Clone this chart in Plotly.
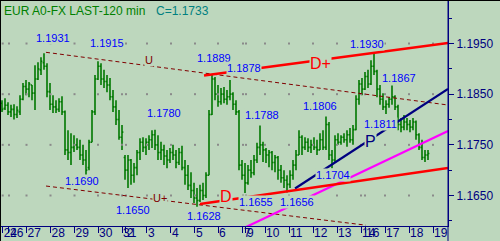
import plotly.graph_objects as go

# ---------------- data: 2-hour OHLC bars, oldest first ----------------
open_ = [1.1832, 1.1822, 1.1828, 1.1815, 1.1820, 1.1810, 1.1815, 1.1840, 1.1865, 1.1860,
         1.1868, 1.1852, 1.1880, 1.1898, 1.1912, 1.1905, 1.1855, 1.1830, 1.1825, 1.1820,
         1.1835, 1.1815, 1.1740, 1.1735, 1.1745, 1.1750, 1.1745, 1.1730, 1.1720, 1.1705,
         1.1755, 1.1815, 1.1880, 1.1905, 1.1880, 1.1875, 1.1868, 1.1845, 1.1825, 1.1800,
         1.1765, 1.1725, 1.1700, 1.1720, 1.1690, 1.1705, 1.1735, 1.1755, 1.1745, 1.1755,
         1.1760, 1.1770, 1.1750, 1.1735, 1.1740, 1.1728, 1.1720, 1.1735, 1.1730, 1.1715,
         1.1735, 1.1705, 1.1690, 1.1670, 1.1660, 1.1645, 1.1640, 1.1660, 1.1650, 1.1690,
         1.1810, 1.1880, 1.1850, 1.1835, 1.1850, 1.1840, 1.1845, 1.1850, 1.1830, 1.1815,
         1.1710, 1.1690, 1.1675, 1.1700, 1.1695, 1.1720, 1.1745, 1.1750, 1.1740, 1.1730,
         1.1735, 1.1715, 1.1725, 1.1700, 1.1685, 1.1680, 1.1672, 1.1690, 1.1710, 1.1730,
         1.1765, 1.1745, 1.1755, 1.1745, 1.1750, 1.1745, 1.1740, 1.1760, 1.1745, 1.1790,
         1.1730, 1.1720, 1.1760, 1.1755, 1.1765, 1.1760, 1.1770, 1.1760, 1.1780, 1.1840,
         1.1870, 1.1860, 1.1885, 1.1870, 1.1905, 1.1895, 1.1860, 1.1840, 1.1825, 1.1830,
         1.1840, 1.1845, 1.1825, 1.1790, 1.1785, 1.1795, 1.1790, 1.1785, 1.1795, 1.1770,
         1.1745, 1.1725, 1.1730]
high = [1.1838, 1.1842, 1.1834, 1.1829, 1.1830, 1.1826, 1.1848, 1.1872, 1.1878, 1.1874,
        1.1868, 1.1907, 1.1913, 1.1923, 1.1931, 1.1911, 1.1872, 1.1848, 1.1838, 1.1842,
        1.1846, 1.1818, 1.1779, 1.1773, 1.1769, 1.1763, 1.1760, 1.1750, 1.1740, 1.1760,
        1.1819, 1.1888, 1.1915, 1.1911, 1.1898, 1.1888, 1.1882, 1.1858, 1.1838, 1.1819,
        1.1789, 1.1730, 1.1730, 1.1722, 1.1714, 1.1740, 1.1763, 1.1765, 1.1763, 1.1769,
        1.1779, 1.1780, 1.1769, 1.1756, 1.1750, 1.1740, 1.1744, 1.1750, 1.1740, 1.1744,
        1.1748, 1.1720, 1.1710, 1.1696, 1.1675, 1.1665, 1.1671, 1.1675, 1.1696, 1.1819,
        1.1889, 1.1884, 1.1868, 1.1862, 1.1864, 1.1858, 1.1878, 1.1854, 1.1838, 1.1819,
        1.1720, 1.1714, 1.1710, 1.1720, 1.1730, 1.1754, 1.1788, 1.1756, 1.1744, 1.1740,
        1.1738, 1.1730, 1.1728, 1.1710, 1.1700, 1.1690, 1.1700, 1.1720, 1.1740, 1.1779,
        1.1769, 1.1765, 1.1763, 1.1760, 1.1765, 1.1760, 1.1773, 1.1779, 1.1806, 1.1795,
        1.1740, 1.1769, 1.1773, 1.1769, 1.1773, 1.1779, 1.1783, 1.1789, 1.1848, 1.1878,
        1.1882, 1.1894, 1.1898, 1.1917, 1.1930, 1.1898, 1.1868, 1.1852, 1.1838, 1.1844,
        1.1867, 1.1848, 1.1829, 1.1803, 1.1809, 1.1803, 1.1799, 1.1803, 1.1798, 1.1773,
        1.1760, 1.1740, 1.1740]
low = [1.1815, 1.1819, 1.1809, 1.1805, 1.1800, 1.1803, 1.1809, 1.1838, 1.1848, 1.1844,
       1.1838, 1.1819, 1.1878, 1.1888, 1.1898, 1.1844, 1.1819, 1.1813, 1.1813, 1.1815,
       1.1809, 1.1730, 1.1720, 1.1710, 1.1736, 1.1740, 1.1720, 1.1710, 1.1690, 1.1700,
       1.1755, 1.1809, 1.1878, 1.1868, 1.1862, 1.1854, 1.1838, 1.1815, 1.1789, 1.1760,
       1.1740, 1.1681, 1.1665, 1.1671, 1.1675, 1.1690, 1.1720, 1.1736, 1.1730, 1.1740,
       1.1744, 1.1740, 1.1720, 1.1720, 1.1710, 1.1704, 1.1714, 1.1720, 1.1704, 1.1710,
       1.1700, 1.1671, 1.1661, 1.1645, 1.1635, 1.1628, 1.1637, 1.1641, 1.1645, 1.1690,
       1.1809, 1.1838, 1.1825, 1.1829, 1.1832, 1.1829, 1.1838, 1.1819, 1.1809, 1.1700,
       1.1681, 1.1655, 1.1671, 1.1685, 1.1690, 1.1714, 1.1730, 1.1716, 1.1714, 1.1706,
       1.1700, 1.1696, 1.1681, 1.1675, 1.1665, 1.1656, 1.1665, 1.1681, 1.1700, 1.1730,
       1.1730, 1.1740, 1.1736, 1.1734, 1.1740, 1.1730, 1.1740, 1.1740, 1.1740, 1.1720,
       1.1704, 1.1716, 1.1750, 1.1750, 1.1754, 1.1746, 1.1754, 1.1750, 1.1779, 1.1829,
       1.1848, 1.1858, 1.1862, 1.1868, 1.1888, 1.1844, 1.1829, 1.1819, 1.1811, 1.1823,
       1.1829, 1.1819, 1.1779, 1.1775, 1.1779, 1.1779, 1.1775, 1.1779, 1.1760, 1.1740,
       1.1720, 1.1716, 1.1720]
close = [1.1820, 1.1828, 1.1815, 1.1820, 1.1810, 1.1818, 1.1840, 1.1865, 1.1860, 1.1870,
         1.1852, 1.1880, 1.1900, 1.1915, 1.1905, 1.1855, 1.1830, 1.1825, 1.1820, 1.1835,
         1.1815, 1.1740, 1.1735, 1.1745, 1.1750, 1.1745, 1.1730, 1.1720, 1.1700, 1.1755,
         1.1815, 1.1880, 1.1905, 1.1880, 1.1875, 1.1868, 1.1845, 1.1825, 1.1800, 1.1765,
         1.1775, 1.1700, 1.1720, 1.1690, 1.1705, 1.1735, 1.1755, 1.1745, 1.1755, 1.1760,
         1.1770, 1.1750, 1.1735, 1.1740, 1.1728, 1.1720, 1.1735, 1.1730, 1.1715, 1.1735,
         1.1705, 1.1690, 1.1670, 1.1660, 1.1645, 1.1640, 1.1660, 1.1650, 1.1690, 1.1810,
         1.1880, 1.1850, 1.1835, 1.1850, 1.1840, 1.1845, 1.1850, 1.1830, 1.1815, 1.1710,
         1.1690, 1.1675, 1.1700, 1.1695, 1.1720, 1.1745, 1.1750, 1.1740, 1.1730, 1.1735,
         1.1715, 1.1725, 1.1700, 1.1685, 1.1680, 1.1672, 1.1690, 1.1710, 1.1730, 1.1765,
         1.1745, 1.1755, 1.1745, 1.1750, 1.1745, 1.1740, 1.1760, 1.1745, 1.1790, 1.1730,
         1.1720, 1.1760, 1.1755, 1.1765, 1.1760, 1.1770, 1.1760, 1.1780, 1.1840, 1.1870,
         1.1860, 1.1885, 1.1870, 1.1905, 1.1895, 1.1860, 1.1840, 1.1825, 1.1830, 1.1840,
         1.1845, 1.1825, 1.1790, 1.1785, 1.1795, 1.1790, 1.1785, 1.1795, 1.1770, 1.1745,
         1.1725, 1.1730, 1.1733]
bar_no = list(range(len(close)))

# date ticks (bar position where each session's label sits)
tick_pos = [0.23, 2.33, 8.17, 16.17, 24.17, 32.0, 40.0, 41.33, 48.33, 56.33, 64.33, 72.0,
            80.33, 81.33, 87.67, 95.67, 103.67, 111.67, 119.67, 121.0, 127.67, 135.67, 143.67]
tick_text = ["24", "26", "27", "28", "29", "30", "31", "2", "3", "4", "5", "6",
             "7", "9", "10", "11", "12", "13", "14", "16", "17", "18", "19"]
grid_levels = [1.1950, 1.1850, 1.1750, 1.1650]

# trend lines (bar positions, prices)
upper_chan_x = [14.67, 148.67]
upper_chan_y = [1.19326, 1.18286]
lower_chan_x = [14.67, 121.33]
lower_chan_y = [1.16687, 1.15914]
red_top_x = [67.33, 148.67]
red_top_y = [1.18868, 1.19510]
red_bot_x = [66.0, 148.67]
red_bot_y = [1.16332, 1.17042]
magenta_x = [80.0, 148.67]
magenta_y = [1.15840, 1.17773]
navy_x = [97.67, 148.67]
navy_y = [1.16638, 1.18602]

# price labels
lab_text = ["1.1931", "1.1915", "1.1889", "1.1878", "1.1930", "1.1867", "1.1780", "1.1788",
            "1.1806", "1.1811", "1.1690", "1.1650", "1.1628", "1.1655", "1.1656", "1.1704"]
lab_x = [17.0, 35.0, 70.67, 80.67, 121.67, 132.33, 54.0, 86.67,
         106.0, 126.33, 26.67, 43.67, 67.33, 84.67, 98.33, 110.33]
lab_y = [1.19609, 1.19510, 1.19214, 1.19016, 1.19490, 1.18819, 1.18128, 1.18089,
         1.18266, 1.17911, 1.16786, 1.16214, 1.16095, 1.16371, 1.16371, 1.16904]

# signal letters
sig_text = ["U", "U+", "D", "D+", "P"]
sig_x = [49.0, 52.67, 74.67, 106.0, 122.67]
sig_y = [1.19174, 1.16450, 1.16490, 1.19115, 1.17575]
sig_color = ["#800000", "#800000", "#ff0000", "#ff0000", "#000080"]
sig_size = [11, 11, 16, 16, 16]

BG = "#bdd7bd"
NAVY = "#000080"
FONT = "Liberation Sans, Arial, sans-serif"

fig = go.Figure()

# dotted grid: dots where date ticks meet labelled price levels
gx, gy = [], []
for lv in grid_levels:
    for t in tick_pos:
        gx.append(t)
        gy.append(lv)
fig.add_trace(go.Scatter(x=gx, y=gy, mode="markers", hoverinfo="skip",
                         marker=dict(symbol="square", size=2, color="#8a8a8a", line=dict(width=0))))

fig.add_trace(go.Ohlc(x=bar_no, open=open_, high=high, low=low, close=close,
                      increasing=dict(line=dict(color="#007800", width=1.6)),
                      decreasing=dict(line=dict(color="#007800", width=1.6)),
                      tickwidth=0.45, hoverinfo="skip"))

fig.add_trace(go.Scatter(x=upper_chan_x, y=upper_chan_y, mode="lines",
                         line=dict(color="#800000", width=1, dash="4px,3px")))
fig.add_trace(go.Scatter(x=lower_chan_x, y=lower_chan_y, mode="lines",
                         line=dict(color="#800000", width=1, dash="4px,3px")))
fig.add_trace(go.Scatter(x=magenta_x, y=magenta_y, mode="lines",
                         line=dict(color="#ff00ff", width=2.2)))
fig.add_trace(go.Scatter(x=navy_x, y=navy_y, mode="lines",
                         line=dict(color=NAVY, width=2.2)))
fig.add_trace(go.Scatter(x=red_top_x, y=red_top_y, mode="lines",
                         line=dict(color="#ff0000", width=2.6)))
fig.add_trace(go.Scatter(x=red_bot_x, y=red_bot_y, mode="lines",
                         line=dict(color="#ff0000", width=2.6)))

ann = []
for t, x, y in zip(lab_text, lab_x, lab_y):
    ann.append(dict(x=x, y=y, xref="x", yref="y", text=t, showarrow=False,
                    font=dict(family=FONT, size=11, color="#0000ff"),
                    bgcolor=BG, borderpad=0, xanchor="center", yanchor="middle"))
for t, x, y, c, s in zip(sig_text, sig_x, sig_y, sig_color, sig_size):
    ann.append(dict(x=x, y=y, xref="x", yref="y", text=t, showarrow=False,
                    font=dict(family=FONT, size=s, color=c),
                    bgcolor=BG, borderpad=0, xanchor="center", yanchor="middle"))
ann.append(dict(x=0, y=1, xref="paper", yref="paper", xanchor="left", yanchor="top",
                xshift=2, yshift=-1, showarrow=False, text="EUR A0-FX LAST-120 min",
                font=dict(family=FONT, size=12, color="#008000")))
ann.append(dict(x=154 / 448, y=1, xref="paper", yref="paper", xanchor="left", yanchor="top",
                yshift=-1, showarrow=False, text="C=" + f"{close[-1]:.4f}",
                font=dict(family=FONT, size=12, color="#008080")))

fig.update_layout(
    width=500, height=241,
    margin=dict(l=0, r=52, t=1, b=15),
    paper_bgcolor=BG, plot_bgcolor=BG,
    showlegend=False,
    font=dict(family=FONT, size=12, color=NAVY),
    annotations=ann,
    xaxis=dict(range=[-0.667, 148.667], rangeslider=dict(visible=False),
               tickmode="array", tickvals=tick_pos, ticktext=tick_text, tickangle=0,
               ticks="outside", ticklen=6, tickcolor=NAVY, tickwidth=1,
               showline=True, linecolor=NAVY, linewidth=1, showgrid=False, zeroline=False,
               ticklabelposition="outside right", ticklabelstandoff=-4,
               tickfont=dict(family=FONT, size=12, color=NAVY)),
    yaxis=dict(range=[1.15898, 1.20339], side="right", dtick=0.01, tick0=1.1950,
               tickformat=".4f", ticks="outside", ticklen=5, tickcolor=NAVY, tickwidth=1,
               showline=True, linecolor=NAVY, linewidth=1, showgrid=False, zeroline=False,
               minor=dict(dtick=0.005, ticks="outside", ticklen=3, tickcolor=NAVY, showgrid=False),
               tickfont=dict(family=FONT, size=12, color=NAVY)),
    shapes=[
        dict(type="line", xref="paper", yref="paper", x0=1, x1=1, y0=-0.08, y1=1.01,
             line=dict(color=NAVY, width=1)),
        dict(type="line", xref="paper", yref="paper", x0=0, x1=1.12, y0=1.0022, y1=1.0022,
             line=dict(color="#000000", width=1)),
        dict(type="line", xref="paper", yref="paper", x0=0.0011, x1=0.0011, y0=-0.08, y1=1.01,
             line=dict(color="#000000", width=1)),
    ],
)

fig.write_html("out.html")
